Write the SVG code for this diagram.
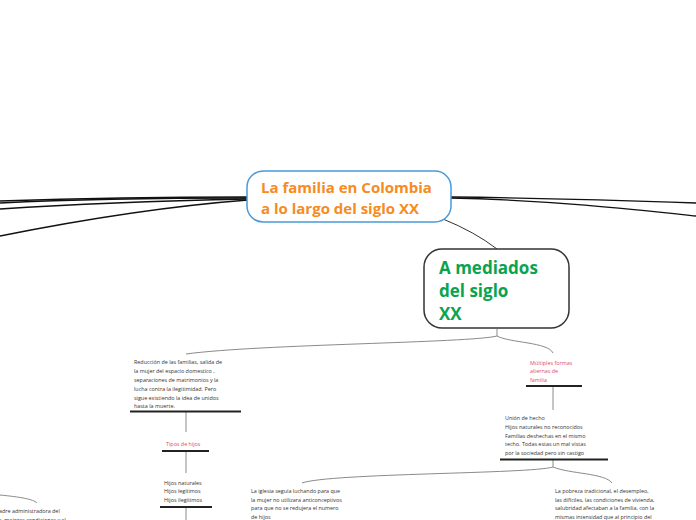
<svg xmlns="http://www.w3.org/2000/svg" width="696" height="520" viewBox="0 0 696 520">
<style>
.t{font-family:"Open Sans","Noto Sans","DejaVu Sans",sans-serif;font-size:5.4px;fill:#333}
.p{fill:#e0486a}
.ul{stroke:#222;stroke-width:2}
.g{fill:none;stroke:#8a8a8a;stroke-width:1}
.k{fill:none;stroke:#111;stroke-width:1.3}
</style>
<rect width="696" height="520" fill="#fff"/>
<g id="connectors">
<path class="k" d="M248,197 C150,197 60,199 0,201"/>
<path class="k" d="M248,198 C150,198 60,200 0,203"/>
<path class="k" d="M248,199 C150,201 60,205 0,209"/>
<path class="k" d="M248,200 C170,206 80,220 0,236"/>
<path class="k" d="M450,197 C550,198 640,201 696,203"/>
<path class="k" d="M450,198 C550,200 640,210 696,216"/>
<path fill="none" stroke="#333" stroke-width="1" d="M443,219 Q475,232 497,249"/>
<path class="g" d="M497,329 V336 C470,343 260,344 186,354"/>
<path class="g" d="M497,336 C510,343 548,342 553,353"/>
<path class="g" d="M186,412 V432"/>
<path class="g" d="M186,452 V473"/>
<path class="g" d="M186,508 V520"/>
<path class="g" d="M553,387 V410"/>
<path class="g" d="M553,460 V467 C530,474 330,473 302,483"/>
<path class="g" d="M553,467 C570,474 605,473 612,483"/>
<path class="g" d="M0,495 C20,497 33,499 37,503"/>
</g>
<g id="central">
<rect x="247" y="171" width="204" height="51" rx="16" fill="#fff" stroke="#4a9ad8" stroke-width="1.5"/>
<text font-family="'Open Sans','Noto Sans',sans-serif" font-weight="bold" font-size="15" fill="#f68b1f"><tspan x="261" y="192.5">La familia en Colombia</tspan><tspan x="261" y="213.5">a lo largo del siglo XX</tspan></text>
</g>
<g id="mediados">
<rect x="424" y="249" width="145" height="79" rx="18" fill="#fff" stroke="#333" stroke-width="1.5"/>
<text font-family="'Open Sans','Noto Sans',sans-serif" font-weight="bold" font-size="17" fill="#0aa34f"><tspan x="439" y="274">A mediados</tspan><tspan x="439" y="297">del siglo</tspan><tspan x="439" y="320">XX</tspan></text>
</g>
<g id="reduccion">
<text class="t"><tspan x="134" y="364">Reducción de las familias, salida de</tspan><tspan x="134" y="373">la mujer del espacio domestico ,</tspan><tspan x="134" y="382">separaciones de matrimonios  y la</tspan><tspan x="134" y="390.5">lucha contra la ilegitimidad. Pero</tspan><tspan x="134" y="399.5">sigue existiendo la idea de unidos</tspan><tspan x="134" y="408">hasta la muerte.</tspan></text>
<line class="ul" x1="130" y1="411.5" x2="241" y2="411.5"/>
</g>
<g id="tipos">
<text class="t p" x="166" y="445.5">Tipos de hijos</text>
<line class="ul" x1="162" y1="451" x2="209" y2="451"/>
</g>
<g id="hijos">
<text class="t"><tspan x="164" y="484.5">Hijos naturales</tspan><tspan x="164" y="493">Hijos legítimos</tspan><tspan x="164" y="501.5">Hijos ilegítimos</tspan></text>
<line class="ul" x1="160" y1="507" x2="212" y2="507"/>
</g>
<g id="multiples">
<text class="t p"><tspan x="530" y="364.5">Múltiples formas</tspan><tspan x="530" y="373">alternas de</tspan><tspan x="530" y="381.5">familia</tspan></text>
<line class="ul" x1="526" y1="386" x2="582" y2="386"/>
</g>
<g id="union">
<text class="t"><tspan x="505" y="420">Unión de hecho</tspan><tspan x="505" y="429">Hijos naturales no reconocidos</tspan><tspan x="505" y="437.5">Familias deshechas en el mismo</tspan><tspan x="505" y="446">techo. Todas estas un mal vistas</tspan><tspan x="505" y="454.5">por la sociedad pero sin castigo</tspan></text>
<line class="ul" x1="500" y1="459.5" x2="608" y2="459.5"/>
</g>
<g id="iglesia">
<text class="t"><tspan x="251" y="493">La iglesia seguía luchando para que</tspan><tspan x="251" y="501.5">la mujer no utilizara anticonceptivos</tspan><tspan x="251" y="510">para que no se redujera el numero</tspan><tspan x="251" y="518.5">de hijos</tspan></text>
</g>
<g id="pobreza">
<text class="t"><tspan x="555" y="493">La pobreza tradicional, el desempleo,</tspan><tspan x="555" y="501.5">las difíciles, las condiciones de vivienda,</tspan><tspan x="555" y="510">salubridad afectaban a la familia, con la</tspan><tspan x="555" y="518.5">mismas intensidad que al principio del</tspan></text>
</g>
<g id="madre">
<text class="t"><tspan x="-1" y="513">adre administradora del</tspan><tspan x="-1" y="522">s, mejores condiciones y el</tspan></text>
</g>
</svg>
